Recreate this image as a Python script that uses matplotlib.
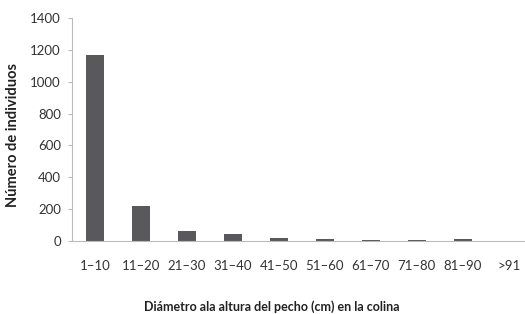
import matplotlib
matplotlib.use("Agg")
import matplotlib.pyplot as plt

categories = ["1\u201310", "11\u201320", "21\u201330", "31\u201340", "41\u201350",
              "51\u201360", "61\u201370", "71\u201380", "81\u201390", ">91"]
individuos = [1170, 220, 65, 45, 20, 12, 8, 8, 10, 0]
yticks = [0, 200, 400, 600, 800, 1000, 1200, 1400]

plt.rcParams['font.family'] = ['Lato', 'DejaVu Sans']

fig = plt.figure(figsize=(5.25, 3.14), dpi=100)
ax = fig.add_axes([0.137, 0.2325, 0.876, 0.710])

x = range(len(categories))
ax.bar(x, individuos, width=0.4, color='#59595b')

ax.set_xlim(-0.5, len(categories) - 0.5)
ax.set_ylim(0, 1400)
ax.set_yticks(yticks)
ax.set_xticks(list(x))
ax.set_xticklabels(categories)

for s in ['top', 'right']:
    ax.spines[s].set_visible(False)
ax.spines['left'].set_color('#bbbbbb')
ax.spines['bottom'].set_color('#bbbbbb')
ax.tick_params(axis='y', length=3, color='#bbbbbb', labelsize=9.5, labelcolor='#333333', pad=5)
ax.tick_params(axis='x', length=0, labelsize=9.5, labelcolor='#333333', pad=14)

ax.set_ylabel("Número de individuos", fontsize=10.5, fontweight='bold', color='#222222')
ax.yaxis.set_label_coords(-0.113, 0.475)
ax.set_xlabel("Diámetro ala altura del pecho (cm) en la colina", fontsize=9,
              fontweight='bold', color='#222222')
ax.xaxis.set_label_coords(0.435, -0.265)

fig.savefig("out.png", dpi=100)
